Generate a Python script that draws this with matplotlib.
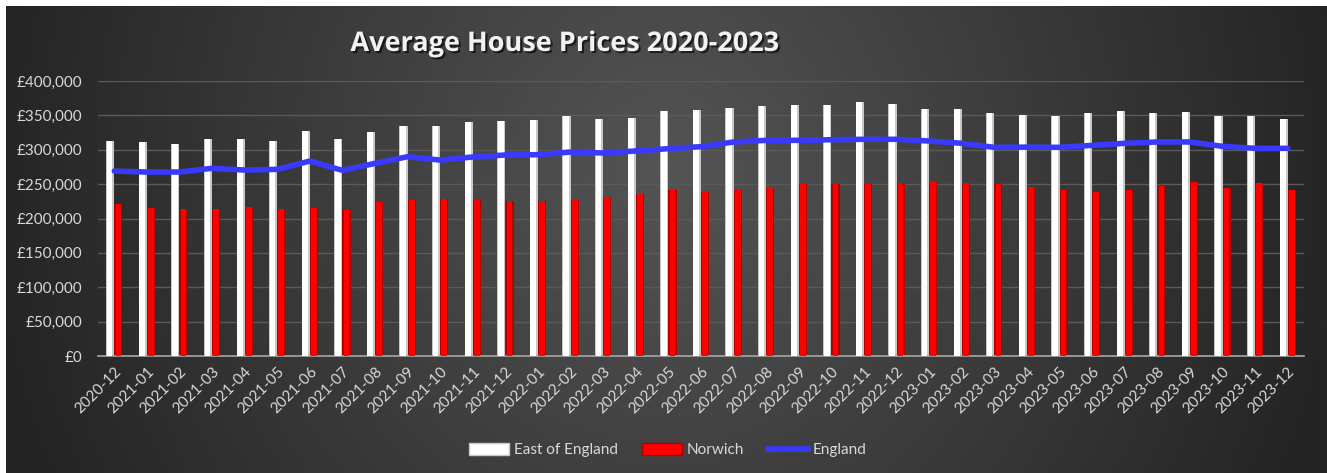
import numpy as np
import matplotlib.pyplot as plt
import matplotlib.patheffects as pe
from matplotlib.ticker import FuncFormatter
from matplotlib.patches import Patch
from matplotlib.lines import Line2D

months = ["2020-12", "2021-01", "2021-02", "2021-03", "2021-04", "2021-05", "2021-06",
          "2021-07", "2021-08", "2021-09", "2021-10", "2021-11", "2021-12", "2022-01",
          "2022-02", "2022-03", "2022-04", "2022-05", "2022-06", "2022-07", "2022-08",
          "2022-09", "2022-10", "2022-11", "2022-12", "2023-01", "2023-02", "2023-03",
          "2023-04", "2023-05", "2023-06", "2023-07", "2023-08", "2023-09", "2023-10",
          "2023-11", "2023-12"]

east_of_england = [313000, 310800, 307900, 316000, 316000, 312200, 326800, 315200, 325300,
                   334500, 334500, 339900, 341300, 342800, 349000, 345200, 346700, 355900,
                   357300, 361200, 363600, 365100, 365100, 369000, 366500, 359700, 359700,
                   353000, 350500, 349000, 353000, 355900, 353000, 354400, 349000, 349000,
                   345200]

norwich = [221000, 214800, 213400, 214300, 216300, 213400, 215700, 211900, 224000, 226400,
           228800, 226900, 225500, 225500, 228400, 231300, 235100, 241900, 239000, 241000,
           243900, 249700, 249700, 249700, 251200, 252600, 251200, 249700, 246300, 241900,
           239000, 241900, 247300, 252600, 244800, 251600, 241900]

england = [269000, 267600, 267600, 273000, 270500, 271500, 283600, 270000, 280200, 289900,
           285000, 289500, 292400, 292800, 296700, 295300, 298200, 301600, 304500, 311300,
           313700, 313700, 314600, 315200, 315200, 312700, 309400, 303500, 303800, 303500,
           306400, 309400, 311300, 311300, 305000, 302100, 302100]

W, H = 1327, 473
fig = plt.figure(figsize=(W / 100, H / 100), dpi=100, facecolor="white")

# dark radial background
bg = fig.add_axes([6 / W, 0, 1 - 6 / W, 1 - 6 / H], zorder=-10)
gx, gy = np.meshgrid(np.linspace(0, 1, 400), np.linspace(0, 1, 150))
d = np.sqrt(((gx - 0.5) / 0.52) ** 2 + ((gy - 0.35) / 1.6) ** 2)
shade = 0x54 - (0x54 - 0x24) * np.clip(d, 0, 1)
img = np.dstack([shade, shade, shade]) / 255.0
bg.imshow(img, aspect="auto", extent=[0, 1, 1, 0], interpolation="bilinear")
bg.set_axis_off()

ax = fig.add_axes([98 / W, 1 - 356 / H, (1304 - 98) / W, (356 - 81) / H])
ax.patch.set_alpha(0)

x = np.arange(len(months))
bw = 0.25
# white bars with soft shading
ax.bar(x - bw / 2, east_of_england, width=bw, color="#c8c8c8", zorder=2)
ax.bar(x - bw / 2 - 0.02, east_of_england, width=bw * 0.7, color="#ffffff", zorder=3)
# red bars with darker edges
ax.bar(x + bw / 2, norwich, width=bw, color="#b00000", zorder=2)
ax.bar(x + bw / 2, norwich, width=bw * 0.7, color="#ff0000", zorder=3)

ax.plot(x, england, color="#3a3aff", lw=4, zorder=4, solid_capstyle="round")

ax.set_xlim(-0.5, len(months) - 0.5)
ax.set_ylim(0, 400000)
ax.set_yticks(np.arange(0, 400001, 50000))
ax.yaxis.set_major_formatter(FuncFormatter(lambda v, p: "£{:,.0f}".format(v)))
ax.grid(axis="y", color="#5a5a5a", lw=1, zorder=0)
ax.set_xticks(x)
ax.set_xticklabels(months, rotation=45, ha="right", va="top", rotation_mode="anchor")
for s in ["top", "right", "left"]:
    ax.spines[s].set_visible(False)
ax.spines["bottom"].set_color("#a6a6a6")
ax.spines["bottom"].set_linewidth(1.2)
ax.tick_params(axis="both", length=0, colors="#d9d9d9", labelsize=11)
ax.tick_params(axis="y", pad=11)
ax.tick_params(axis="x", pad=6)
for lab in ax.get_xticklabels() + ax.get_yticklabels():
    lab.set_fontfamily("Lato")

fig.text(565 / W, 1 - 44 / H, "Average House Prices 2020-2023", color="#f2f2f2",
         fontsize=19.5, fontweight="bold", family="Open Sans", ha="center", va="center",
         path_effects=[pe.withSimplePatchShadow(offset=(1.5, -1.5), shadow_rgbFace="black", alpha=0.6)])

handles = [Patch(facecolor="#ffffff", edgecolor="#c8c8c8"),
           Patch(facecolor="#ff0000", edgecolor="#b00000"),
           Line2D([0], [0], color="#3a3aff", lw=4)]
leg = fig.legend(handles, ["East of England", "Norwich", "England"], loc="center",
                 bbox_to_anchor=(668 / W, 1 - 450 / H), ncol=3, frameon=False,
                 handlelength=2.6, handleheight=0.9, handletextpad=0.3, columnspacing=1.6,
                 prop={"family": "Lato", "size": 11})
for t in leg.get_texts():
    t.set_color("#d9d9d9")

fig.savefig("out.png", dpi=100)
